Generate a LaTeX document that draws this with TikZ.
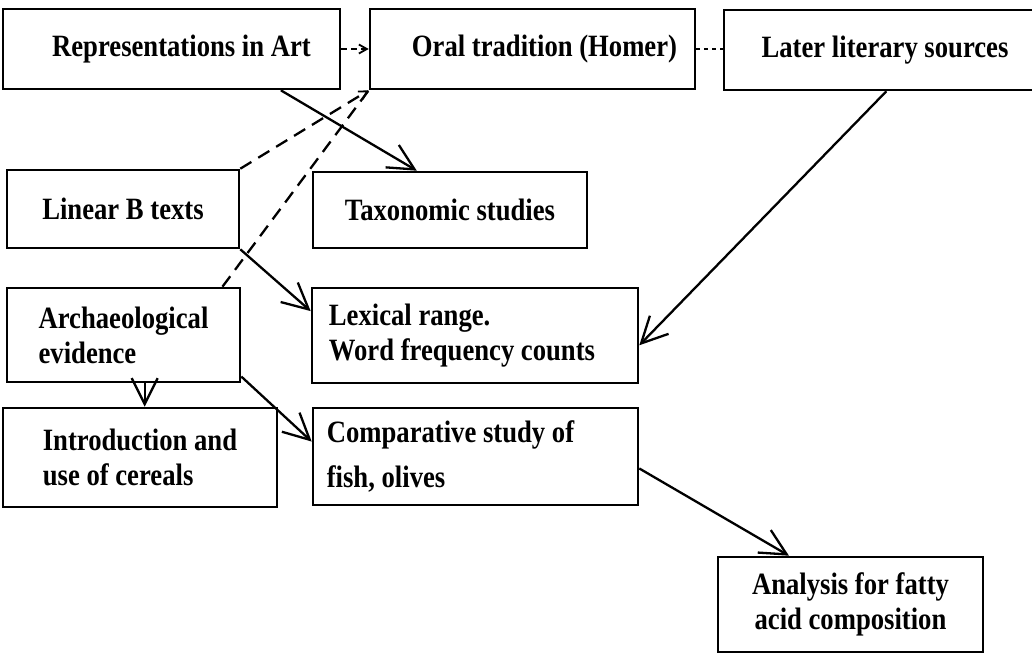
\documentclass[tikz,border=0pt]{standalone}
\usepackage{fontspec}
\setmainfont{Liberation Serif}
\newfontfamily\boxfont{Liberation Serif}[FakeStretch=0.86]
\usetikzlibrary{arrows.meta,calc}
\begin{document}
\begin{tikzpicture}[x=1pt,y=-1pt,
  box/.style={draw,line width=2.6pt,rectangle,inner sep=0pt,align=center,
    font=\boxfont\bfseries\fontsize{31}{35}\selectfont},
  conn/.style={line width=2.3pt},
  opentip/.style={-{Straight Barb[length=26pt,width=26pt,line width=2.3pt]}},
  smalltip/.style={-{Straight Barb[length=8pt,width=9pt,line width=1.8pt]}},
  longdash/.style={dash pattern=on 13pt off 8pt},
  shortdash/.style={dash pattern=on 6pt off 4pt}]
\useasboundingbox (0,0) rectangle (1032,657);
\fill[white] (0,0) rectangle (1032,657);

\node[box,minimum width=337pt,minimum height=80pt] (art) at (171.5,49) {\hspace*{20pt}Representations in Art};
\node[box,minimum width=325pt,minimum height=80pt] (oral) at (532.5,49) {\hspace*{24pt}Oral tradition (Homer)};
\node[box,minimum width=312pt,minimum height=80pt] (later) at (880,50) {\hspace*{10pt}Later literary sources};
\node[box,minimum width=232pt,minimum height=78pt] (linb) at (123,209) {Linear B texts};
\node[box,minimum width=274pt,minimum height=76pt] (tax) at (450,210) {Taxonomic studies};
\node[box,minimum width=233pt,minimum height=94pt,align=left] (arch) at (123.5,335) {Archaeological\\evidence};
\node[box,minimum width=326pt,minimum height=95pt,align=left] (lex) at (475,335.5) {Lexical range.\\Word frequency counts\hspace*{26pt}};
\node[box,minimum width=274pt,minimum height=99pt,align=left] (intro) at (140,457.5) {Introduction and\\use of cereals};
\node[box,minimum width=325pt,minimum height=97pt,align=left] (comp) at (475.5,456.5) {Comparative study of\hspace*{50pt}\\[10pt]fish, olives};
\node[box,minimum width=265pt,minimum height=95pt] (anal) at (850.5,604.5) {Analysis for fatty\\acid composition};

% connectors
\draw[conn,opentip] ($(art.south west)!0.822!(art.south east)$) -- ($(tax.north west)!0.38!(tax.north east)$);
\draw[conn,longdash,smalltip] (linb.north east) -- (oral.south west);
\draw[conn,longdash] ($(arch.north west)!0.92!(arch.north east)$) -- (oral.south west);
\draw[conn,shortdash,smalltip] (art.east) -- (oral.west);
\draw[conn,dash pattern=on 4pt off 4pt] (oral.east) -- (oral.east -| later.west);
\draw[conn,opentip] (linb.south east) -- ($(lex.north west)!0.25!(lex.south west)$);
\draw[conn,opentip] ($(later.south west)!0.52!(later.south east)$) -- ($(lex.north east)!0.6!(lex.south east)$);
\coordinate (archb) at ($(arch.south west)!0.59!(arch.south east)$);
\draw[conn,opentip] (archb) -- (archb |- intro.north);
\draw[conn,opentip] ($(arch.north east)!0.93!(arch.south east)$) -- ($(comp.north west)!0.35!(comp.south west)$);
\draw[conn,opentip] ($(comp.north east)!0.62!(comp.south east)$) -- ($(anal.north west)!0.27!(anal.north east)$);
\end{tikzpicture}
\end{document}
